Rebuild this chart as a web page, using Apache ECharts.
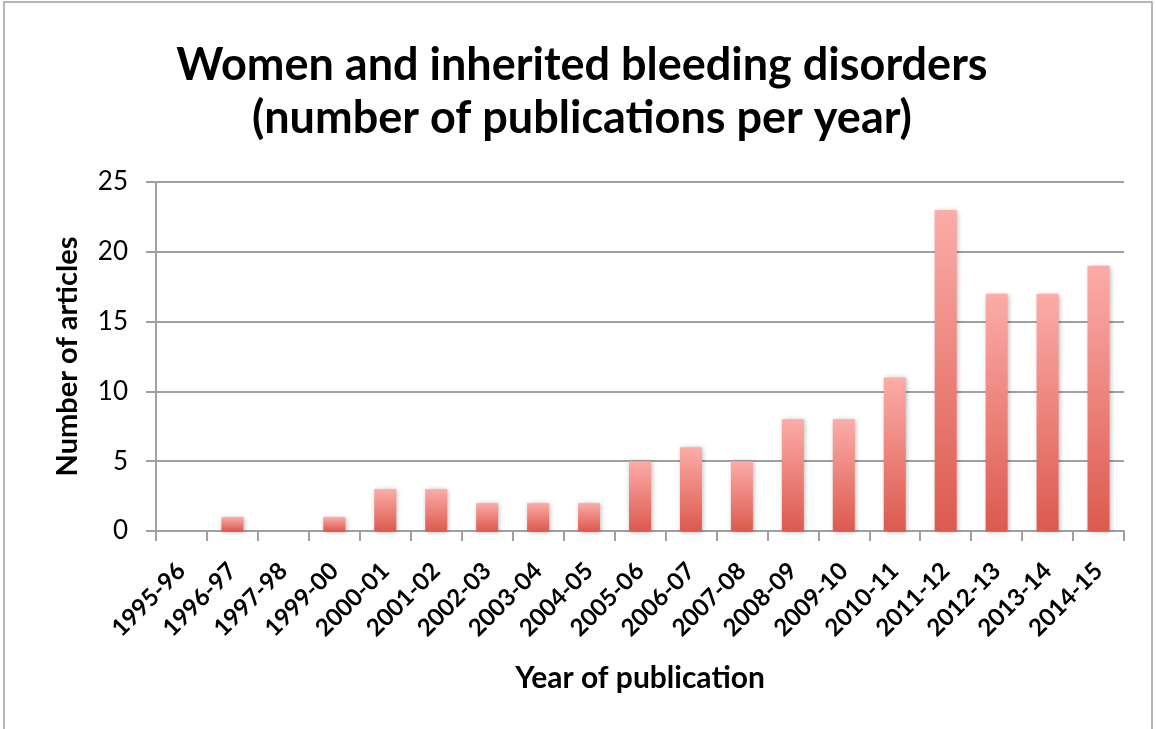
<!DOCTYPE html>
<html>
<head>
<meta charset="utf-8">
<script src="https://cdn.jsdelivr.net/npm/echarts@6/dist/echarts.min.js"></script>
<style>html,body{margin:0;padding:0;background:#fff}#c{width:1156px;height:729px}</style>
</head>
<body>
<div id="c"></div>
<script>
const categories = ['1995-96','1996-97','1997-98','1999-00','2000-01','2001-02','2002-03','2003-04','2004-05','2005-06','2006-07','2007-08','2008-09','2009-10','2010-11','2011-12','2012-13','2013-14','2014-15'];
const articles = [0,1,0,1,3,3,2,2,2,5,6,5,8,8,11,23,17,17,19];
const yTicks = {min:0, max:25, interval:5};

const chart = echarts.init(document.getElementById('c'));
const axisColor = '#A0A0A0';
chart.setOption({
  animation:false,
  backgroundColor:'#fff',
  title:{
    text:'Women and inherited bleeding disorders\n(number of publications per year)',
    left:577, top:34, textAlign:'center',
    textStyle:{fontFamily:'Lato', fontWeight:'bold', fontSize:45, lineHeight:53, color:'#000'}
  },
  graphic:[{type:'rect', shape:{x:4,y:2,width:1148,height:740}, style:{fill:'none', stroke:'#A0A0A0', lineWidth:1.5}, silent:true}],
  grid:{left:156, right:32, top:182, bottom:198},
  xAxis:{
    type:'category', data:categories,
    name:'Year of publication', nameLocation:'middle', nameGap:132,
    nameTextStyle:{fontFamily:'Lato', fontWeight:'bold', fontSize:30, color:'#000'},
    axisLine:{lineStyle:{color:axisColor, width:2}},
    axisTick:{show:true, alignWithLabel:false, length:10, lineStyle:{color:axisColor, width:2}},
    axisLabel:{rotate:45, interval:0, fontFamily:'Lato', fontWeight:'bold', fontSize:24, color:'#000', margin:36}
  },
  yAxis:{
    type:'value', min:yTicks.min, max:yTicks.max, interval:yTicks.interval,
    name:'Number of articles', nameLocation:'middle', nameGap:74, nameRotate:90,
    nameTextStyle:{fontFamily:'Lato', fontWeight:'bold', fontSize:29, color:'#000'},
    axisLine:{show:true, lineStyle:{color:axisColor, width:2}},
    axisTick:{show:true, length:10, lineStyle:{color:axisColor, width:2}},
    axisLabel:{fontFamily:'Lato', fontSize:26, color:'#000', margin:28},
    splitLine:{lineStyle:{color:axisColor, width:2}}
  },
  series:[{
    type:'bar', data:articles, barWidth:22,
    itemStyle:{
      color:new echarts.graphic.LinearGradient(0,0,0,1,[{offset:0,color:'#FCACA8'},{offset:1,color:'#DC5A4F'}]),
      shadowBlur:5, shadowColor:'rgba(0,0,0,0.3)', shadowOffsetX:1, shadowOffsetY:1
    }
  }]
});
</script>
</body>
</html>
